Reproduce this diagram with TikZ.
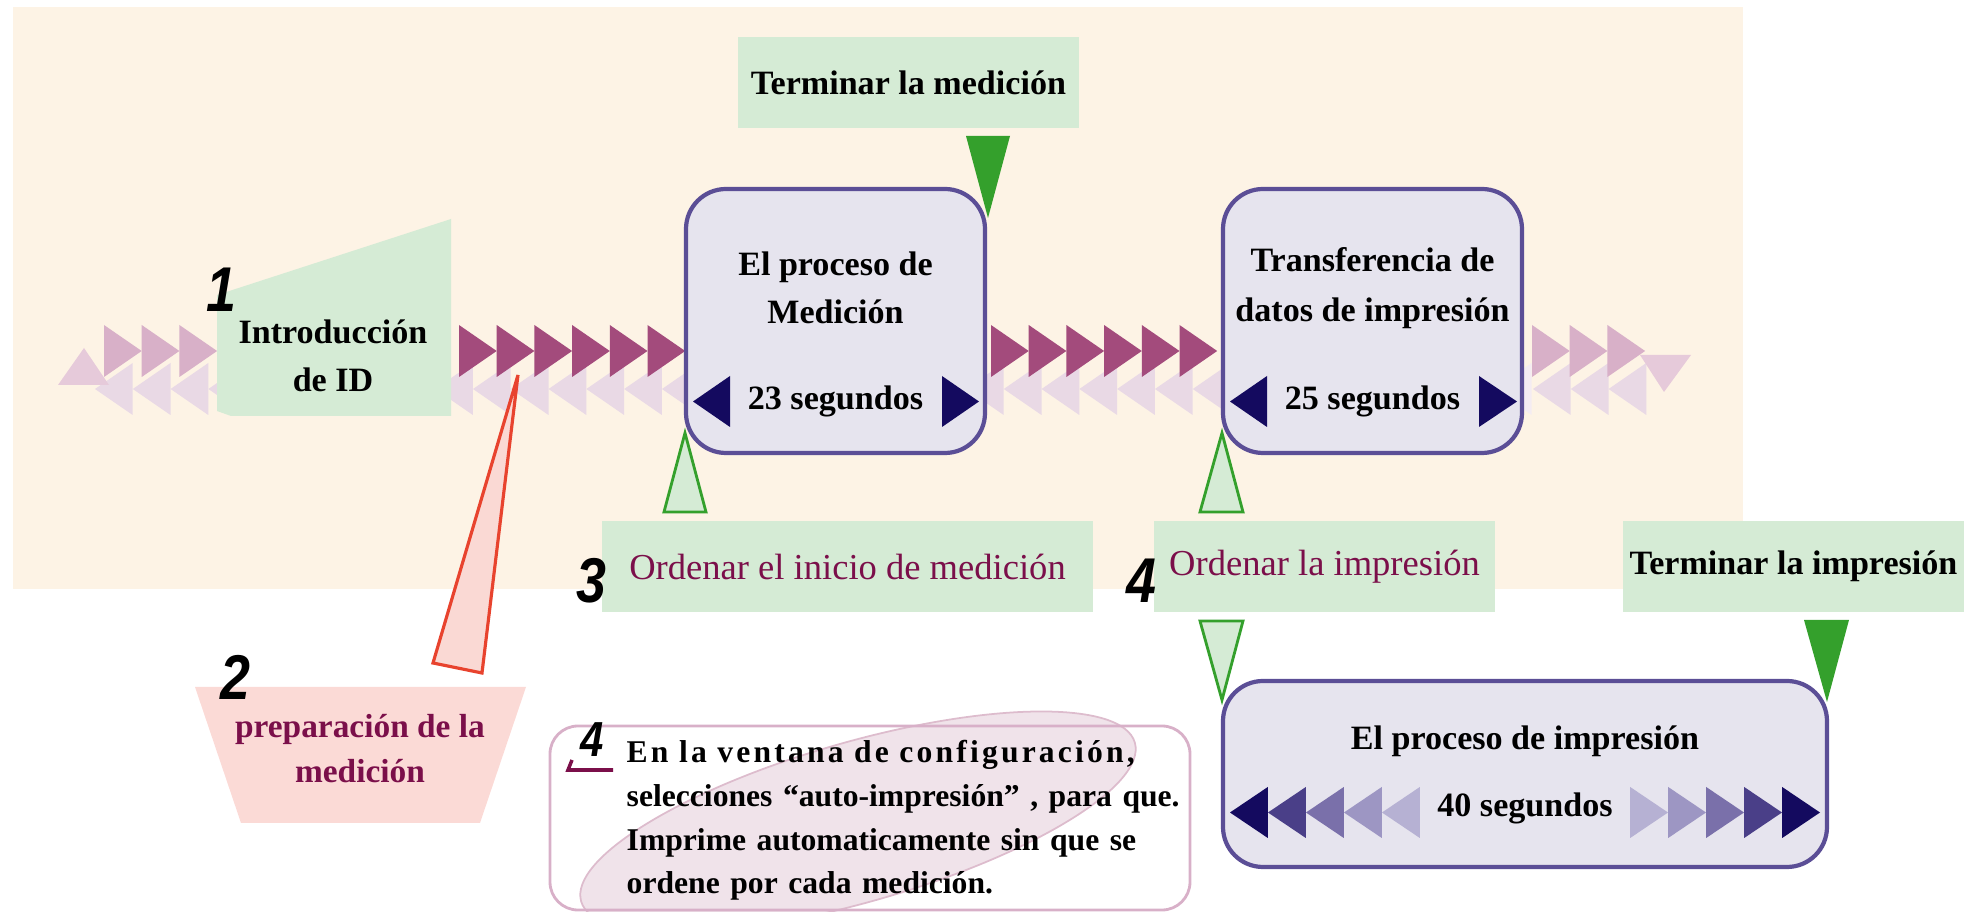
\documentclass[tikz,border=0pt]{standalone}
\usepackage{fontspec}
\setmainfont{Liberation Serif}
\newfontfamily\numfont[FakeStretch=0.85]{Liberation Sans}

\definecolor{fondo}{HTML}{FDF3E5}
\definecolor{verdeclaro}{HTML}{D5EBD5}
\definecolor{verde}{HTML}{34A02C}
\definecolor{lila}{HTML}{E6E4EE}
\definecolor{lilaborde}{HTML}{5B4E96}
\definecolor{marino}{HTML}{140A5F}
\definecolor{azul1}{HTML}{4A3F88}
\definecolor{azul2}{HTML}{7A70AA}
\definecolor{azul3}{HTML}{9D96C3}
\definecolor{azul4}{HTML}{B6B1D3}
\definecolor{magenta1}{HTML}{A34B7C}
\definecolor{rosa1}{HTML}{D8B0C8}
\definecolor{rosa2}{HTML}{E9D9E5}
\definecolor{rosa3}{HTML}{E6CADA}
\definecolor{rosa4}{HTML}{F4ECF2}
\definecolor{elipse}{HTML}{F0E3EA}
\definecolor{elipseborde}{HTML}{DDBCCD}
\definecolor{rojo}{HTML}{E8432E}
\definecolor{salmon}{HTML}{FAD9D4}
\definecolor{trapecio}{HTML}{FBDAD6}
\definecolor{vino}{HTML}{7B0F4A}

% triangulo hacia la derecha: x de la base, y del centro, color
\newcommand{\triR}[3]{\fill[#3] (#1,#2-26) -- ++(37.7,26) -- ++(-37.7,26) -- cycle}
% triangulo hacia la izquierda: x de la punta, y del centro, color
\newcommand{\triL}[3]{\fill[#3] (#1,#2) -- ++(37.7,-26) -- ++(0,52) -- cycle}

\begin{document}
\begin{tikzpicture}[x=0.1mm, y=-0.1mm,
  txt/.style={font=\fontsize{9.7}{13.5}\selectfont\bfseries, align=center, inner sep=0},
  ordtxt/.style={font=\fontsize{10.4}{13}\selectfont, text=vino, inner sep=0},
  greenbox/.style={fill=verdeclaro, minimum height=9.1mm},
  procbox/.style={draw=lilaborde, fill=lila, line width=1.2pt, rounded corners=4mm},
  num/.style={font=\numfont\bfseries\itshape\fontsize{18}{18}\selectfont, inner sep=0},
  hueco/.style={draw=verde, fill=verdeclaro, line width=0.8pt},
  lleno/.style={fill=verde}]
\useasboundingbox (0,0) rectangle (1977,912);
\fill[fondo] (13,7) rectangle (1743,589);

% fila de abajo
\foreach \i in {0,...,15} {\triL{95+\i*37.8}{389}{rosa2};}
\foreach \i in {0,...,6} {\triL{966+\i*37.8}{389}{rosa2};}
\triL{1494}{389}{rosa4};
\foreach \i in {0,...,2} {\triL{1533+\i*37.8}{389}{rosa2};}
\fill[rosa3] (58,385) -- (84,348) -- (109,385) -- cycle;
\fill[rosa3] (1640,355) -- (1691,355) -- (1664,392) -- cycle;

% fila de arriba
\foreach \i in {0,...,2} {\triR{104+\i*37.7}{351}{rosa1};}
\foreach \i in {0,...,5} {\triR{459+\i*37.7}{351}{magenta1};}
\foreach \i in {0,...,5} {\triR{991+\i*37.7}{351}{magenta1};}
\foreach \i in {0,...,2} {\triR{1532+\i*37.7}{351}{rosa1};}

% introduccion de ID
\fill[verdeclaro] (217,295) -- (451,219) -- (451,416) -- (231,416) -- (217,411) -- cycle;
\node[txt] (idtxt) at (333,356) {Introducción\\de ID};
\node[num] (n1) at (221,290) {1};

% preparacion
\fill[trapecio] (195,687) -- (526,687) -- (480,823) -- (241,823) -- cycle;
\node[txt, text=vino, font=\fontsize{9.5}{12.8}\selectfont\bfseries] (prep) at (360,749) {preparación de la\\medición};
\node[num] (n2) at (235,677) {2};
\filldraw[fill=salmon, draw=rojo, line width=0.9pt] (518,375) -- (482,673) -- (433,663) -- cycle;

% cajas verdes
\node[greenbox, txt, minimum width=34.1mm, minimum height=9.1mm] (termmed) at (908.5,82.5) {Terminar la medición};
\node[greenbox, minimum width=49.1mm] (ordmed) at (847.5,566.5) {};
\node[ordtxt] at (ordmed) {Ordenar el inicio de medición};
\node[greenbox, minimum width=34.1mm] (ordimp) at (1324.5,566.5) {};
\node[ordtxt] at (ordimp) {Ordenar la impresión};
\node[greenbox, txt, minimum width=34.1mm, minimum height=9.1mm] (termimp) at (1793.5,566.5) {Terminar la impresión};
\node[num] (n3) at (591,581) {3};
\node[num] (n4) at (1141,581) {4};

% procesos
\node[procbox, minimum width=29.9mm, minimum height=26.4mm] (medbox) at (835.5,321) {};
\node[txt] (medtxt) at (835.5,288) {El proceso de\\Medición};
\node[txt] (medtime) at (835.5,401) {23 segundos};
\fill[marino] (730,376) -- (693,401.5) -- (730,427) -- cycle;
\fill[marino] (942,376) -- (979,401.5) -- (942,427) -- cycle;

\node[procbox, minimum width=29.9mm, minimum height=26.4mm] (transbox) at (1372.5,321) {};
\node[txt, font=\fontsize{9.7}{14.2}\selectfont\bfseries] (transtxt) at (1372.5,288) {Transferencia de\\datos de impresión};
\node[txt] (transtime) at (1372.5,401) {25 segundos};
\fill[marino] (1267,376) -- (1230,401.5) -- (1267,427) -- cycle;
\fill[marino] (1479,376) -- (1517,401.5) -- (1479,427) -- cycle;

\node[procbox, minimum width=60.4mm, minimum height=18.6mm] (impbox) at (1525,774) {};
\node[txt] (imptxt) at (1525,741) {El proceso de impresión};
\node[txt] (imptime) at (1525,808) {40 segundos};
\foreach \i/\c in {0/marino,1/azul1,2/azul2,3/azul3,4/azul4} {
  \fill[\c] (1230+\i*38,812.5) -- ++(37.8,-25.5) -- ++(0,51) -- cycle;
  \fill[\c] (1820-\i*38,812.5) -- ++(-37.8,-25.5) -- ++(0,51) -- cycle;
}

% flechas verdes
\fill[lleno] (966,136) -- (1010,136) -- (988,218) -- cycle;
\fill[lleno] (1804,620) -- (1849,620) -- (1827,702) -- cycle;
\filldraw[hueco] (664,512) -- (685,433) -- (706,512) -- cycle;
\filldraw[hueco] (1200,512) -- (1222,433) -- (1243,512) -- cycle;
\filldraw[hueco] (1200,621) -- (1243,621) -- (1222,700) -- cycle;

% nota
\filldraw[fill=elipse, draw=elipseborde, line width=0.5pt, rotate around={16:(858,822)}] (858,822) ellipse (288 and 80);
\node[draw=rosa1, line width=0.8pt, rounded corners=2.8mm, minimum width=64mm, minimum height=18.4mm] (notebox) at (870,818) {};
\node[num, font=\numfont\bfseries\itshape\fontsize{14}{14}\selectfont] (n4b) at (592,740) {4};
\draw[vino, line width=1pt] (572,760) -- (568,770) -- (613,770);
\node[anchor=base west, inner sep=0, text width=52.6mm, font=\fontsize{9}{12.4}\selectfont\bfseries] (notetxt) at (626,763)
  {\makebox[52.6mm][s]{\addfontfeature{LetterSpace=10}En la ventana de configuración,}\\
   \makebox[52.6mm][s]{selecciones “auto-impresión” , para que.}\\
   \makebox[52.6mm][s]{Imprime automaticamente sin que se}\\
   ordene por cada medición.};
\end{tikzpicture}
\end{document}
